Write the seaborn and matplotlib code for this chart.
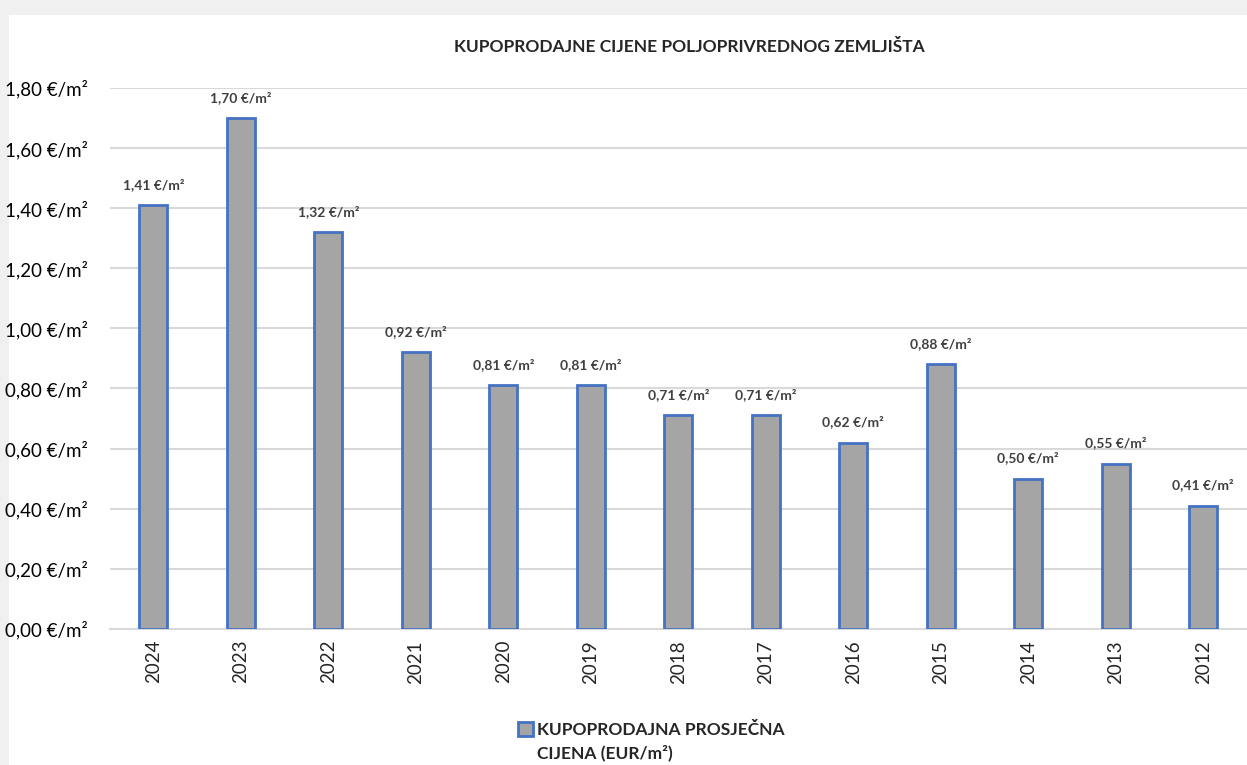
import numpy as np
import pandas as pd
import matplotlib
matplotlib.use("Agg")
import matplotlib.pyplot as plt
from matplotlib.ticker import FuncFormatter, MultipleLocator
from matplotlib.patches import Rectangle
import seaborn as sns

# Data
years = ["2024", "2023", "2022", "2021", "2020", "2019", "2018",
         "2017", "2016", "2015", "2014", "2013", "2012"]
prices = [1.41, 1.70, 1.32, 0.92, 0.81, 0.81, 0.71, 0.71, 0.62, 0.88, 0.50, 0.55, 0.41]
series_name = "KUPOPRODAJNA PROSJEČNA\nCIJENA (EUR/m²)"
title = "KUPOPRODAJNE CIJENE POLJOPRIVREDNOG ZEMLJIŠTA"

df = pd.DataFrame({"Godina": years, "Cijena": prices})

sns.set_style("white")
plt.rcParams['font.family'] = ['Lato', 'DejaVu Sans']

fig = plt.figure(figsize=(12.47, 7.65), dpi=100)
fig.patch.set_facecolor("#f0f0f0")
# white chart panel (shadow frame look)
fig.patches.append(Rectangle((0.007, 0), 0.993, 0.98, transform=fig.transFigure,
                             facecolor="white", edgecolor="none", zorder=-5))

ax = fig.add_axes([0.088, 0.178, 0.912, 0.707])
ax.set_facecolor("none")

sns.barplot(data=df, x="Godina", y="Cijena", color="#a5a5a5", edgecolor="#4472c4",
            linewidth=2, width=0.32, saturation=1, label=series_name, ax=ax, zorder=3)

# Data labels
for i, v in enumerate(prices):
    ax.annotate(f"{v:.2f}".replace(".", ",") + " €/m²", (i, v), xytext=(0, 15),
                textcoords="offset points", ha="center", va="center",
                fontsize=10, fontweight="bold", color="#404040")

ax.set_ylim(0, 1.8)
ax.yaxis.set_major_locator(MultipleLocator(0.2))
ax.yaxis.set_major_formatter(FuncFormatter(lambda v, p: f"{v:.2f}".replace(".", ",") + " €/m²"))
ax.grid(axis="y", color="#d9d9d9", linewidth=1.5, zorder=0)
ax.set_axisbelow(True)
for s in ["top", "right", "left"]:
    ax.spines[s].set_visible(False)
ax.spines["bottom"].set_color("#d9d9d9")
ax.spines["bottom"].set_linewidth(1.5)

ax.tick_params(axis="y", labelsize=13.5, length=0, pad=16, labelcolor="#000000")
ax.tick_params(axis="x", labelsize=13.5, length=0, pad=8, rotation=90)
ax.set_xlabel("")
ax.set_ylabel("")

fig.text(0.553, 0.938, title, ha="center", va="center", fontsize=12.5, fontweight="bold")

leg = ax.legend(loc="upper center", bbox_to_anchor=(0.476, -0.143), frameon=False,
                prop={"size": 12.5, "weight": "bold"}, handlelength=0.9, handleheight=0.9,
                handletextpad=0.2)
leg.get_texts()[0].set_linespacing(1.5)
# put the marker next to the first line, as in the original
for col in leg._legend_handle_box.get_children():
    for row in col.get_children():
        row.align = "top"

fig.savefig("out.png", dpi=100, facecolor=fig.get_facecolor())
